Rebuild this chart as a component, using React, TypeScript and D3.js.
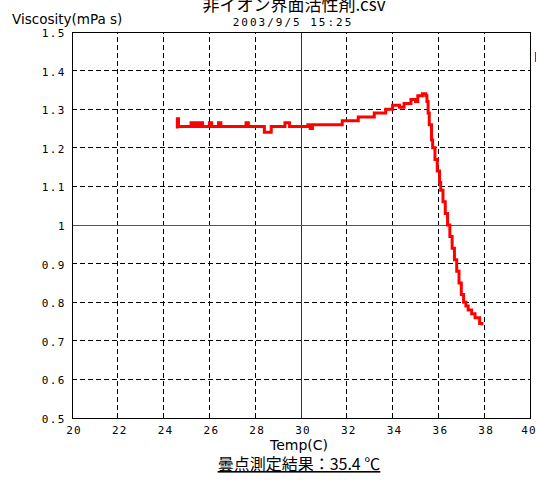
import * as d3 from 'd3';

// measurement: temperature (C) vs viscosity (mPa s)
const temps = [
  24.6, 24.6, 24.65, 25.2, 25.3, 25.4, 25.5, 25.6, 25.7, 26.0, 26.1, 26.4, 26.5,
  27.6, 27.7, 28.4, 28.7, 29.3, 29.5, 30.3, 30.4, 30.5, 31.8, 32.5, 33.2, 33.7,
  34.0, 34.3, 34.5, 34.8, 35.0, 35.1, 35.3, 35.45, 35.5, 35.55, 35.6, 35.7, 35.75,
  35.85, 35.95, 36.05, 36.1, 36.2, 36.3, 36.4, 36.5, 36.6, 36.7, 36.8, 36.9, 37.0,
  37.1, 37.2, 37.3, 37.45, 37.6, 37.8, 37.9,
];
const viscosities = [
  1.25, 1.275, 1.255, 1.265, 1.255, 1.265, 1.255, 1.265, 1.255, 1.265, 1.255, 1.265, 1.255,
  1.265, 1.255, 1.24, 1.255, 1.265, 1.255, 1.26, 1.25, 1.26, 1.27, 1.28, 1.29, 1.3,
  1.31, 1.305, 1.315, 1.325, 1.32, 1.335, 1.34, 1.335, 1.32, 1.29, 1.26, 1.22, 1.2,
  1.17, 1.14, 1.11, 1.09, 1.06, 1.03, 1.0, 0.97, 0.94, 0.91, 0.88, 0.85, 0.82,
  0.8, 0.79, 0.78, 0.77, 0.76, 0.745, 0.74,
];

const xTicks = [20, 22, 24, 26, 28, 30, 32, 34, 36, 38, 40];
const yTicks = [0.5, 0.6, 0.7, 0.8, 0.9, 1.0, 1.1, 1.2, 1.3, 1.4, 1.5];

const title = '非イオン界面活性剤.csv';
const subtitle = '2003/9/5 15:25';
const yTitle = 'Viscosity(mPa s)';
const xTitle = 'Temp(C)';
const resultText = '曇点測定結果：35.4 ℃';

const W = 536;
const H = 480;
const margin = { top: 32, right: 6, bottom: 62, left: 72 };
const mono = '"DejaVu Sans Mono", monospace';

export default function App() {
  const x = d3.scaleLinear().domain([20, 40]).range([margin.left, W - margin.right]);
  const y = d3.scaleLinear().domain([0.5, 1.5]).range([H - margin.bottom, margin.top]);

  const pts = temps.map((t, i) => [t, viscosities[i]] as [number, number]);
  const line = d3
    .line<[number, number]>()
    .x((d) => x(d[0]))
    .y((d) => y(d[1]))
    .curve(d3.curveStepAfter);

  const [x0, x1] = x.range();
  const [y0, y1] = y.range();

  return (
    <svg
      width={W}
      height={H}
      style={{ position: 'absolute', left: 0, top: 0, background: '#fff' }}
    >
      <text x={294} y={11} textAnchor="middle" fontFamily='"Noto Sans CJK JP", sans-serif' fontSize={17}>
        {title}
      </text>
      <text x={293} y={26} textAnchor="middle" fontFamily={mono} fontSize={11} letterSpacing={2}>
        {subtitle}
      </text>
      <text x={12} y={24} fontFamily='"DejaVu Sans", sans-serif' fontSize={13.5}>
        {yTitle}
      </text>

      {/* grid */}
      {xTicks.slice(1, -1).map((t) => (
        <line
          key={'gx' + t}
          x1={x(t)}
          x2={x(t)}
          y1={y0}
          y2={y1}
          stroke={t === 30 ? '#333' : '#000'}
          strokeDasharray={t === 30 ? undefined : '5,3'}
          shapeRendering="crispEdges"
        />
      ))}
      {yTicks.slice(1, -1).map((t) => (
        <line
          key={'gy' + t}
          x1={x0}
          x2={x1}
          y1={y(t)}
          y2={y(t)}
          stroke={t === 1 ? '#555' : '#000'}
          strokeDasharray={t === 1 ? undefined : '5,3'}
          shapeRendering="crispEdges"
        />
      ))}
      <rect
        x={x0}
        y={y1}
        width={x1 - x0}
        height={y0 - y1}
        fill="none"
        stroke="#000"
        shapeRendering="crispEdges"
      />

      {/* tick labels */}
      {yTicks.map((t) => (
        <text
          key={'ly' + t}
          x={x0 - 6}
          y={y(t) + 5}
          textAnchor="end"
          fontFamily={mono}
          fontSize={11}
          letterSpacing={1.5}
        >
          {t === 1 ? '1' : t.toFixed(1)}
        </text>
      ))}
      {xTicks.map((t) => (
        <text
          key={'lx' + t}
          x={t === 40 ? x(t) - 1 : x(t) + 2}
          y={y0 + 16}
          textAnchor="middle"
          fontFamily={mono}
          fontSize={11}
          letterSpacing={1.2}
        >
          {t}
        </text>
      ))}

      <path
        d={line(pts) ?? ''}
        fill="none"
        stroke="#ff0000"
        strokeWidth={3}
        strokeLinejoin="miter"
      />

      <text x={299} y={450} textAnchor="middle" fontFamily='"DejaVu Sans", sans-serif' fontSize={14}>
        {xTitle}
      </text>
      <text
        x={299}
        y={470}
        textAnchor="middle"
        fontFamily='"Noto Sans CJK JP", sans-serif'
        fontSize={16}
        textDecoration="underline"
      >
        {resultText}
      </text>

      {/* legend swatch cut off at the right edge */}
      <rect x={535} y={52} width={10} height={10} fill="#ff0000" />
    </svg>
  );
}
